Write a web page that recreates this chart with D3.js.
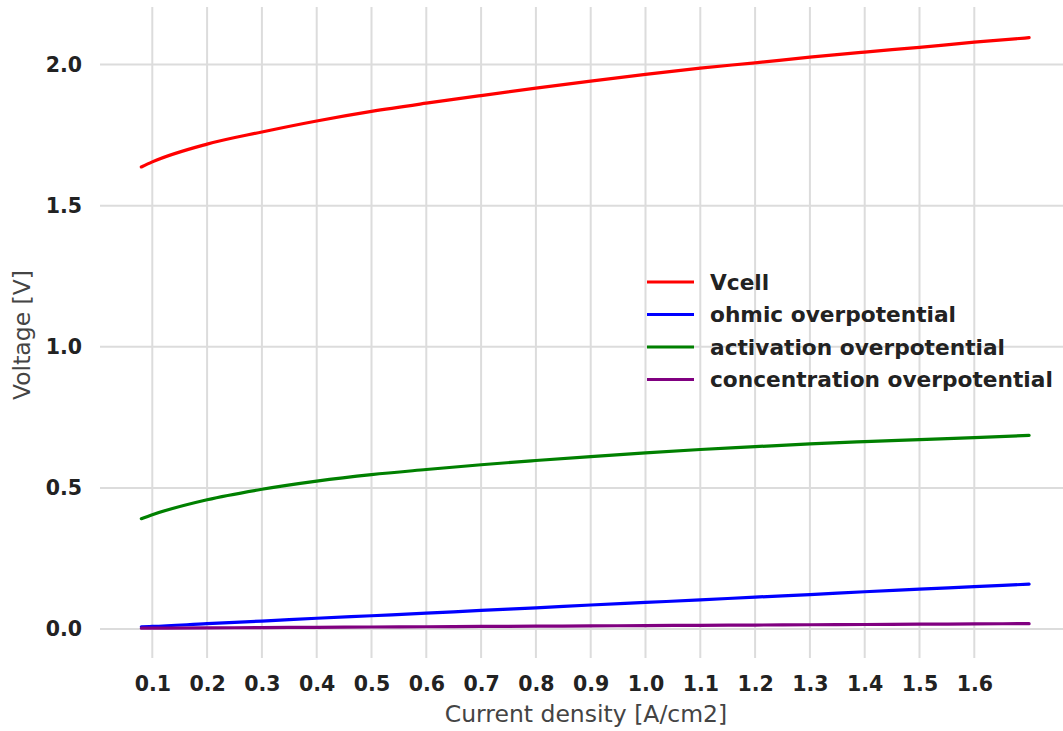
<!DOCTYPE html>
<html>
<head>
<meta charset="utf-8">
<script src="https://cdn.jsdelivr.net/npm/d3@7"></script>
<style>
  html, body { margin: 0; padding: 0; background: #fff; }
  svg { display: block; }
</style>
</head>
<body>
<svg id="chart" width="1063" height="731"></svg>
<script>
// ---- data ----
const currentDensity = [0.08, 0.1, 0.2, 0.3, 0.4, 0.5, 0.6, 0.7, 0.8, 0.9, 1.0, 1.1, 1.2, 1.3, 1.4, 1.5, 1.6, 1.7];
const vcell = [1.637, 1.655, 1.718, 1.761, 1.800, 1.834, 1.863, 1.890, 1.916, 1.941, 1.965, 1.987, 2.006, 2.026, 2.044, 2.061, 2.079, 2.095];
const ohmic = [0.008, 0.009, 0.019, 0.028, 0.038, 0.047, 0.056, 0.066, 0.075, 0.085, 0.094, 0.103, 0.113, 0.122, 0.132, 0.141, 0.150, 0.159];
const activation = [0.391, 0.405, 0.458, 0.495, 0.524, 0.547, 0.565, 0.582, 0.597, 0.611, 0.624, 0.636, 0.646, 0.656, 0.664, 0.671, 0.678, 0.686];
const concentration = [0.003, 0.003, 0.004, 0.005, 0.006, 0.007, 0.008, 0.009, 0.010, 0.011, 0.012, 0.013, 0.014, 0.015, 0.016, 0.017, 0.018, 0.019];
const seriesNames = ["Vcell", "ohmic overpotential", "activation overpotential", "concentration overpotential"];
const seriesColors = ["#ff0000", "#0000ff", "#008000", "#800080"];
const xTicks = [0.1, 0.2, 0.3, 0.4, 0.5, 0.6, 0.7, 0.8, 0.9, 1.0, 1.1, 1.2, 1.3, 1.4, 1.5, 1.6];
const yTicks = [0.0, 0.5, 1.0, 1.5, 2.0];
const xLabel = "Current density [A/cm2]";
const yLabel = "Voltage [V]";

const seriesValues = [vcell, ohmic, activation, concentration];

// ---- layout ----
const svg = d3.select("#chart");
const plot = { left: 100, right: 1075, top: 7, bottom: 658 };

const x = d3.scaleLinear().domain([0, 1]).range([97.5, 645.5]);
const y = d3.scaleLinear().domain([0, 2]).range([629, 64.5]);

// gridlines
const grid = svg.append("g");
grid.selectAll("line.vx").data(xTicks).enter().append("line")
  .attr("x1", d => x(d)).attr("x2", d => x(d))
  .attr("y1", plot.top).attr("y2", plot.bottom)
  .attr("stroke", "#dcdcdc").attr("stroke-width", 2);
grid.selectAll("line.hy").data(yTicks).enter().append("line")
  .attr("x1", plot.left).attr("x2", plot.right)
  .attr("y1", d => y(d)).attr("y2", d => y(d))
  .attr("stroke", "#dcdcdc").attr("stroke-width", 2);

// axes (labels only, no domain / tick marks)
const xAxis = d3.axisBottom(x).tickValues(xTicks).tickFormat(d3.format(".1f")).tickSize(0).tickPadding(0);
const gx = svg.append("g").attr("transform", "translate(0,676)").call(xAxis);
gx.select(".domain").remove();
gx.selectAll("text")
  .attr("font-family", "DejaVu Sans, sans-serif")
  .attr("font-size", 20.5).attr("font-weight", "bold").attr("fill", "#222");

const yAxis = d3.axisLeft(y).tickValues(yTicks).tickFormat(d3.format(".1f")).tickSize(0).tickPadding(0);
const gy = svg.append("g").attr("transform", "translate(82,0)").call(yAxis);
gy.select(".domain").remove();
gy.selectAll("text")
  .attr("font-family", "DejaVu Sans, sans-serif")
  .attr("font-size", 20.5).attr("font-weight", "bold").attr("fill", "#222");

// axis titles
svg.append("text")
  .attr("x", 586).attr("y", 722)
  .attr("text-anchor", "middle")
  .attr("font-family", "DejaVu Sans, sans-serif")
  .attr("font-size", 23.5).attr("fill", "#444")
  .text(xLabel);
svg.append("text")
  .attr("transform", "translate(30,335) rotate(-90)")
  .attr("text-anchor", "middle")
  .attr("font-family", "DejaVu Sans, sans-serif")
  .attr("font-size", 23.5).attr("fill", "#444")
  .text(yLabel);

// lines
const line = d3.line()
  .x(d => x(d[0]))
  .y(d => y(d[1]))
  .curve(d3.curveMonotoneX);

seriesValues.forEach((vals, i) => {
  const pts = currentDensity.map((c, j) => [c, vals[j]]);
  svg.append("path")
    .datum(pts)
    .attr("d", line)
    .attr("fill", "none")
    .attr("stroke", seriesColors[i])
    .attr("stroke-width", 3.2)
    .attr("stroke-linecap", "round");
});

// legend
const legend = svg.append("g").attr("transform", "translate(647,282)");
seriesNames.forEach((name, i) => {
  const g = legend.append("g").attr("transform", `translate(0,${i * 32.5})`);
  g.append("line")
    .attr("x1", 0).attr("x2", 47).attr("y1", 0).attr("y2", 0)
    .attr("stroke", seriesColors[i]).attr("stroke-width", 3.2);
  g.append("text")
    .attr("x", 63).attr("y", 7.5)
    .attr("font-family", "DejaVu Sans, sans-serif")
    .attr("font-size", 21.7).attr("font-weight", "bold").attr("fill", "#222")
    .text(name);
});
</script>
</body>
</html>
